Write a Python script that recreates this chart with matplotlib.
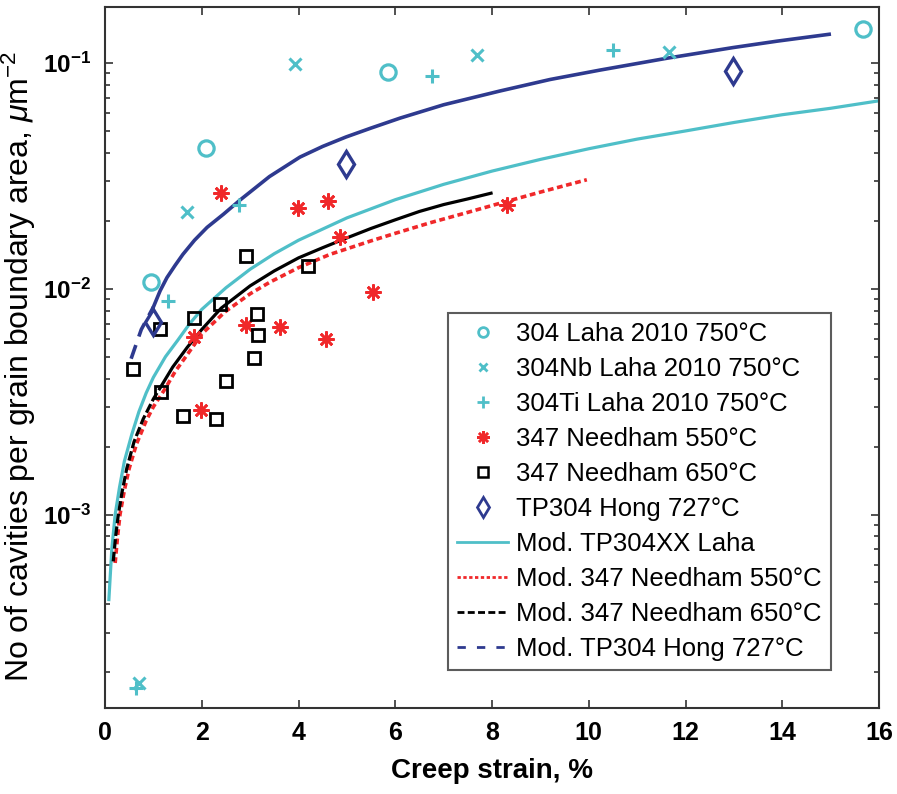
import matplotlib
matplotlib.use('Agg')
import matplotlib.pyplot as plt
from matplotlib.lines import Line2D
from matplotlib.ticker import FixedLocator, FixedFormatter, NullFormatter

# ---------------- data ----------------
laha304_x = [0.95, 2.09, 5.84, 15.67]
laha304_y = [0.0107, 0.042, 0.091, 0.141]

laha304nb_x = [0.70, 1.70, 3.93, 7.68, 11.66]
laha304nb_y = [1.8e-4, 0.0219, 0.099, 0.108, 0.112]

laha304ti_x = [0.65, 1.31, 2.76, 6.75, 10.50]
laha304ti_y = [1.7e-4, 0.00885, 0.0235, 0.0875, 0.114]

needham550_x = [1.84, 1.99, 2.40, 2.92, 3.62, 3.98, 4.57, 4.62, 4.85, 5.55, 8.32]
needham550_y = [0.0061, 0.0029, 0.0266, 0.0069, 0.0068, 0.0228, 0.0060, 0.0245,
                0.0169, 0.0097, 0.0236]

needham650_x = [0.58, 1.14, 1.16, 1.62, 1.84, 2.30, 2.38, 2.50, 2.92, 3.08, 3.15,
                3.17, 4.20]
needham650_y = [0.00442, 0.00665, 0.0035, 0.00274, 0.0074, 0.00266, 0.0086,
                0.00389, 0.0139, 0.00496, 0.00775, 0.00625, 0.0126]

hong_x = [1.00, 4.99, 12.98]
hong_y = [0.0071, 0.0357, 0.092]

# model curves
mod_laha_x = [0.08, 0.14, 0.21, 0.30, 0.40, 0.55, 0.70, 0.85, 1.00, 1.25, 1.50,
              1.75, 2.00, 2.50, 3.00, 3.50, 4.00, 5.00, 6.00, 7.00, 8.00, 9.00,
              10.0, 11.0, 12.0, 13.0, 14.0, 15.0, 16.0]
mod_laha_y = [4.2e-4, 7.0e-4, 1.0e-3, 1.32e-3, 1.72e-3, 2.25e-3, 2.85e-3, 3.45e-3,
              4.05e-3, 5.0e-3, 5.9e-3, 7.0e-3, 8.1e-3, 1.01e-2, 1.22e-2, 1.43e-2,
              1.64e-2, 2.06e-2, 2.48e-2, 2.9e-2, 3.32e-2, 3.74e-2, 4.17e-2, 4.6e-2,
              5.0e-2, 5.45e-2, 5.9e-2, 6.3e-2, 6.8e-2]

mod_n550_x = [0.21, 0.26, 0.31, 0.40, 0.50, 0.65, 0.85, 1.00, 1.24, 1.45, 1.67,
              2.00, 2.48, 3.00, 3.41, 4.00, 4.65, 5.50, 6.00, 6.72, 7.50, 8.10,
              9.00, 9.96]
mod_n550_y = [6.1e-4, 8.0e-4, 1.0e-3, 1.28e-3, 1.6e-3, 2.05e-3, 2.6e-3, 3.0e-3,
              3.6e-3, 4.3e-3, 5.0e-3, 6.3e-3, 7.9e-3, 9.5e-3, 1.07e-2, 1.24e-2,
              1.42e-2, 1.63e-2, 1.76e-2, 1.96e-2, 2.18e-2, 2.37e-2, 2.68e-2, 3.04e-2]

mod_n650_x = [0.17, 0.22, 0.27, 0.35, 0.45, 0.60, 0.79, 1.00, 1.16, 1.40, 1.70,
              2.00, 2.40, 3.00, 3.50, 4.00, 4.50, 5.00, 5.50, 6.00, 6.50, 7.00,
              7.50, 7.98]
mod_n650_y = [6.2e-4, 8.0e-4, 9.8e-4, 1.25e-3, 1.6e-3, 2.1e-3, 2.65e-3, 3.25e-3,
              3.7e-3, 4.5e-3, 5.5e-3, 6.6e-3, 8.2e-3, 1.03e-2, 1.2e-2, 1.37e-2,
              1.52e-2, 1.68e-2, 1.85e-2, 2.02e-2, 2.2e-2, 2.36e-2, 2.5e-2, 2.65e-2]

mod_hong_x = [0.54, 0.75, 1.00, 1.14, 1.28, 1.45, 1.61, 1.85, 2.11, 2.45, 2.79,
              3.40, 4.03, 4.50, 4.98, 5.50, 6.10, 7.00, 8.17, 9.20, 10.23, 11.62,
              12.98, 13.90, 14.97]
mod_hong_y = [4.9e-3, 6.6e-3, 8.3e-3, 9.8e-3, 1.12e-2, 1.27e-2, 1.42e-2, 1.64e-2,
              1.87e-2, 2.14e-2, 2.47e-2, 3.14e-2, 3.83e-2, 4.27e-2, 4.7e-2, 5.15e-2,
              5.7e-2, 6.53e-2, 7.52e-2, 8.45e-2, 9.3e-2, 1.05e-1, 1.17e-1,
              1.25e-1, 1.34e-1]

legend_labels = ['304 Laha 2010 750°C', '304Nb Laha 2010 750°C',
                 '304Ti Laha 2010 750°C', '347 Needham 550°C',
                 '347 Needham 650°C', 'TP304 Hong 727°C',
                 'Mod. TP304XX Laha', 'Mod. 347 Needham 550°C',
                 'Mod. 347 Needham 650°C', 'Mod. TP304 Hong 727°C']

xticks = [0, 2, 4, 6, 8, 10, 12, 14, 16]
yticks = [1e-3, 1e-2, 1e-1]
ytick_labels = [r'$\mathbf{10^{-3}}$', r'$\mathbf{10^{-2}}$', r'$\mathbf{10^{-1}}$']

# ---------------- style ----------------
FONT = ['Liberation Sans', 'DejaVu Sans']
plt.rcParams['font.family'] = FONT
plt.rcParams['mathtext.fontset'] = 'custom'
plt.rcParams['mathtext.rm'] = 'Liberation Sans'
plt.rcParams['mathtext.it'] = 'Liberation Sans:italic'
plt.rcParams['mathtext.bf'] = 'Liberation Sans:bold'

cyan = '#4FBFC8'
dblue = '#2E3A8F'
red = '#F0282A'
black = '#000000'
asterisk = (8, 2, 0)

fig = plt.figure(figsize=(8.97, 7.94), dpi=100)
ax = fig.add_axes([0.11706, 0.10831, 0.86288, 0.88287])
ax.set_yscale('log')

# model curves (steep beginnings rendered dashed as in the original)
ax.plot(mod_laha_x, mod_laha_y, color=cyan, lw=2.3, zorder=2)
ax.plot(mod_n550_x, mod_n550_y, color=red, lw=2.6, ls=(0, (1.6, 1.0)), zorder=2)
ax.plot(mod_n650_x[:9], mod_n650_y[:9], color=black, lw=2.3, ls=(0, (3, 1.0)), zorder=3)
ax.plot(mod_n650_x[8:], mod_n650_y[8:], color=black, lw=2.3, zorder=3)
ax.plot(mod_hong_x[:3], mod_hong_y[:3], color=dblue, lw=2.6, ls=(0, (4, 2.5)), zorder=3)
ax.plot(mod_hong_x[2:], mod_hong_y[2:], color=dblue, lw=2.6, zorder=3)

# data markers
ax.plot(laha304_x, laha304_y, ls='none', marker='o', ms=11, mfc='none', mec=cyan, mew=2.3, zorder=4)
ax.plot(laha304nb_x, laha304nb_y, ls='none', marker='x', ms=9, mec=cyan, mew=2.2, zorder=4)
ax.plot(laha304ti_x, laha304ti_y, ls='none', marker='+', ms=10.5, mec=cyan, mew=2.2, zorder=4)
ax.plot(needham550_x, needham550_y, ls='none', marker=asterisk, ms=11.5, mec=red, mew=1.9, zorder=4)
ax.plot(needham650_x, needham650_y, ls='none', marker='s', ms=8.5, mfc='none', mec=black, mew=2.0, zorder=4)
ax.plot(hong_x, hong_y, ls='none', marker='d', ms=13, mfc='none', mec=dblue, mew=2.4, zorder=4)

# axes
ax.set_xlim(0, 16)
ax.set_ylim(1.39e-4, 0.177)
ax.xaxis.set_major_locator(FixedLocator(xticks))
ax.yaxis.set_major_locator(FixedLocator(yticks))
ax.yaxis.set_major_formatter(FixedFormatter(ytick_labels))
minor = [m * 10.0 ** e for e in (-4, -3, -2, -1) for m in range(2, 10)]
ax.yaxis.set_minor_locator(FixedLocator(minor))
ax.yaxis.set_minor_formatter(NullFormatter())
ax.tick_params(which='both', direction='in', top=True, right=True, width=1.2,
               colors='#333333')
ax.tick_params(which='major', length=6, pad=9)
ax.tick_params(which='minor', length=3.5)
ax.tick_params(axis='both', labelcolor='black')
ax.tick_params(axis='x', labelsize=18)
ax.tick_params(axis='y', labelsize=17.5, pad=10)
for lab in ax.get_xticklabels():
    lab.set_fontweight('bold')
for sp in ax.spines.values():
    sp.set_linewidth(1.5)
    sp.set_color('#333333')

ax.set_xlabel('Creep strain, %', fontsize=20, fontweight='bold', labelpad=10)
ax.set_ylabel(r'No of cavities per grain boundary area, $\mu$m$^{-2}$',
              fontsize=23)
ax.yaxis.set_label_coords(-0.086, 0.487)

handles = [
    Line2D([], [], ls='none', marker='o', ms=7, mfc='none', mec=cyan, mew=2.0),
    Line2D([], [], ls='none', marker='x', ms=6, mec=cyan, mew=2.0),
    Line2D([], [], ls='none', marker='+', ms=8, mec=cyan, mew=2.0),
    Line2D([], [], ls='none', marker=asterisk, ms=9, mec=red, mew=1.8),
    Line2D([], [], ls='none', marker='s', ms=6.5, mfc='none', mec=black, mew=1.8),
    Line2D([], [], ls='none', marker='d', ms=10, mfc='none', mec=dblue, mew=2.0),
    Line2D([], [], color=cyan, lw=2.0),
    Line2D([], [], color=red, lw=2.0, ls=(0, (1.2, 0.9))),
    Line2D([], [], color=black, lw=2.0, ls=(0, (2.5, 1.2))),
    Line2D([], [], color=dblue, lw=2.0, ls=(0, (3, 4))),
]
leg = ax.legend(handles, legend_labels, loc='upper left',
                bbox_to_anchor=(0.4432, 0.5635), borderaxespad=0,
                prop={'family': ['Liberation Sans'], 'size': 18.5},
                frameon=True, fancybox=False, edgecolor='#333333',
                handlelength=2.0, handletextpad=0.3, labelspacing=0.43,
                borderpad=0.35)
leg.get_frame().set_linewidth(1.5)

fig.savefig('out.png', dpi=100)
